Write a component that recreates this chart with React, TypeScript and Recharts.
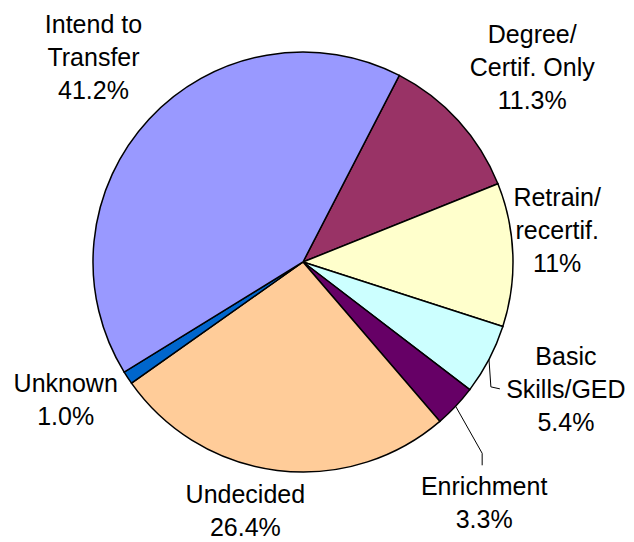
import React from "react";
import { PieChart, Pie, Cell } from "recharts";

const categories = [
    ["Degree/", "Certif. Only"],
    ["Retrain/", "recertif."],
    ["Basic", "Skills/GED"],
    ["Enrichment"],
    ["Undecided"],
    ["Unknown"],
    ["Intend to", "Transfer"],
];
const values = [11.3, 11, 5.4, 3.3, 26.4, 1.0, 41.2];
const pctLabels = ["11.3%", "11%", "5.4%", "3.3%", "26.4%", "1.0%", "41.2%"];

const colors = ["#993366", "#FFFFCC", "#CCFFFF", "#660066", "#FFCC99", "#0066CC", "#9999FF"];

// label placement: radius factor and angle nudge from each slice's mid angle
const labelLayout = [
    { r: 1.433, da: -1.9 },
    { r: 1.22, da: 5.2 },
    { r: 1.39, da: 1.9 },
    { r: 1.433, da: -9.6 },
    { r: 1.215, da: -6 },
    { r: 1.305, da: -3.4 },
    { r: 1.395, da: -1.5 },
];

const data = categories.map((lines, i) => ({ name: lines.join(" "), value: values[i] }));

const RAD = Math.PI / 180;
const LINE_H = 33;

function renderLabel(props: any) {
    const { cx, cy, midAngle, outerRadius, index } = props;
    const lay = labelLayout[index];
    const a = (midAngle + lay.da) * RAD;
    const x = cx + outerRadius * lay.r * Math.cos(a);
    const y = cy - outerRadius * lay.r * Math.sin(a);
    const lines = [...categories[index], pctLabels[index]];
    const n = lines.length;

    let leader = null;
    const ex = cx + outerRadius * Math.cos(midAngle * RAD);
    const ey = cy - outerRadius * Math.sin(midAngle * RAD);
    if (index === 2) {
        leader = <polyline points={`${ex},${ey} ${x - 75},${y - 2} ${x - 66},${y}`} fill="none" stroke="#000" strokeWidth={1} />;
    } else if (index === 3) {
        leader = <polyline points={`${ex},${ey} ${x - 2},${y - 49} ${x - 2},${y - 37}`} fill="none" stroke="#000" strokeWidth={1} />;
    }

    return (
        <g key={`lbl-${index}`}>
            {leader}
            <text
                x={x}
                y={y}
                textAnchor="middle"
                fontFamily="'Liberation Sans', Arial, sans-serif"
                fontSize={25}
                fill="#000"
            >
                {lines.map((t, i) => (
                    <tspan key={i} x={x} y={y + (i - (n - 1) / 2) * LINE_H} dominantBaseline="central">
                        {t}
                    </tspan>
                ))}
            </text>
        </g>
    );
}

export default function App() {
    return (
        <div style={{ position: "absolute", left: 0, top: 0, width: 634, height: 542, background: "#fff" }}>
            <PieChart width={634} height={542} margin={{ top: 0, right: 0, bottom: 0, left: 0 }}>
                <Pie
                    data={data}
                    dataKey="value"
                    nameKey="name"
                    cx={303}
                    cy={262}
                    outerRadius={210}
                    startAngle={62.7}
                    endAngle={-297.3}
                    stroke="#000"
                    strokeWidth={1.5}
                    label={renderLabel}
                    labelLine={false}
                    isAnimationActive={false}
                >
                    {data.map((d, i) => (
                        <Cell key={d.name} fill={colors[i]} />
                    ))}
                </Pie>
            </PieChart>
        </div>
    );
}
